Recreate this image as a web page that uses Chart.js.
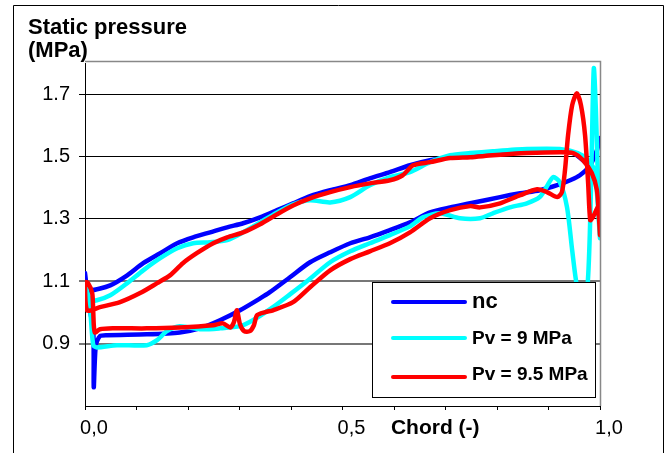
<!DOCTYPE html>
<html>
<head>
<meta charset="utf-8">
<script src="https://cdn.jsdelivr.net/npm/chart.js@4/dist/chart.umd.min.js"></script>
<style>
  html, body { margin: 0; padding: 0; background: #fff; }
  canvas { display: block; }
</style>
</head>
<body>
<canvas id="chart" width="666" height="453"></canvas>
<script>
// each series is one loop: upper surface from trailing to leading edge, then lower surface back
const ncChord = [1.0, 0.994, 0.981, 0.967, 0.948, 0.922, 0.858, 0.792, 0.748, 0.709, 0.670, 0.631, 0.592, 0.553, 0.515, 0.476, 0.437, 0.404, 0.373, 0.340, 0.307, 0.276, 0.243, 0.210, 0.179, 0.146, 0.113, 0.082, 0.049, 0.010, 0.0, 0.0,
  0.006, 0.016, 0.017, 0.021, 0.029, 0.043, 0.120, 0.184, 0.223, 0.262, 0.301, 0.340, 0.359, 0.398, 0.437, 0.476, 0.515, 0.553, 0.592, 0.631, 0.670, 0.709, 0.748, 0.806, 0.845, 0.883, 0.917, 0.942, 0.961, 0.981, 0.994, 1.0];
const ncPressure = [1.286, 1.402, 1.463, 1.488, 1.511, 1.517, 1.517, 1.514, 1.504, 1.498, 1.488, 1.472, 1.450, 1.430, 1.408, 1.392, 1.373, 1.350, 1.328, 1.305, 1.286, 1.273, 1.257, 1.241, 1.222, 1.190, 1.158, 1.119, 1.087, 1.071, 1.087, 1.126,
  1.039, 0.943, 0.760, 0.895, 0.924, 0.927, 0.930, 0.936, 0.949, 0.975, 1.007, 1.045, 1.065, 1.113, 1.161, 1.193, 1.222, 1.241, 1.264, 1.289, 1.321, 1.337, 1.350, 1.370, 1.382, 1.392, 1.408, 1.424, 1.440, 1.472, 1.520, 1.559];

const pv9Chord = [1.0, 0.990, 0.977, 0.957, 0.922, 0.858, 0.792, 0.748, 0.709, 0.670, 0.631, 0.592, 0.553, 0.515, 0.476, 0.437, 0.404, 0.373, 0.340, 0.307, 0.276, 0.243, 0.210, 0.179, 0.146, 0.113, 0.082, 0.049, 0.023, 0.010,
  0.002, 0.010, 0.016, 0.023, 0.062, 0.120, 0.140, 0.159, 0.184, 0.223, 0.262, 0.301, 0.326, 0.365, 0.398, 0.431, 0.476, 0.515, 0.553, 0.592, 0.631, 0.656, 0.689, 0.728, 0.767, 0.792, 0.825, 0.858, 0.883, 0.897, 0.909, 0.922, 0.936, 0.946, 0.955, 0.965, 0.975, 0.981, 0.984, 0.988, 0.992, 0.996, 1.0];
const pv9Pressure = [1.238, 1.450, 1.488, 1.511, 1.524, 1.524, 1.517, 1.511, 1.504, 1.482, 1.450, 1.434, 1.408, 1.370, 1.353, 1.360, 1.347, 1.321, 1.289, 1.257, 1.232, 1.225, 1.222, 1.206, 1.174, 1.135, 1.094, 1.055, 1.039, 1.039,
  1.081, 1.007, 0.895, 0.888, 0.895, 0.895, 0.911, 0.940, 0.956, 0.946, 0.949, 0.956, 0.975, 1.017, 1.058, 1.100, 1.161, 1.196, 1.222, 1.248, 1.276, 1.305, 1.318, 1.302, 1.302, 1.318, 1.337, 1.350, 1.370, 1.405, 1.434, 1.418, 1.337, 1.199, 1.087, 1.045, 1.071, 1.296, 1.520, 1.783, 1.649, 1.424, 1.238];

const pv95Chord = [1.0, 0.998, 0.994, 0.984, 0.967, 0.948, 0.922, 0.858, 0.792, 0.748, 0.709, 0.670, 0.637, 0.617, 0.592, 0.553, 0.515, 0.476, 0.437, 0.404, 0.373, 0.340, 0.307, 0.276, 0.249, 0.217, 0.190, 0.165, 0.140, 0.107, 0.068, 0.029, 0.004, 0.0,
  0.006, 0.014, 0.016, 0.019, 0.029, 0.054, 0.120, 0.184, 0.249, 0.268, 0.282, 0.289, 0.295, 0.301, 0.309, 0.320, 0.328, 0.334, 0.350, 0.365, 0.404, 0.437, 0.476, 0.515, 0.553, 0.592, 0.631, 0.670, 0.709, 0.748, 0.767, 0.806, 0.845, 0.878, 0.897, 0.917, 0.926, 0.932, 0.938, 0.946, 0.955, 0.963, 0.971, 0.977, 0.981, 0.986, 0.990, 0.996, 1.0];
const pv95Pressure = [1.248, 1.305, 1.392, 1.447, 1.488, 1.511, 1.514, 1.511, 1.504, 1.498, 1.495, 1.482, 1.472, 1.440, 1.424, 1.414, 1.402, 1.386, 1.366, 1.343, 1.315, 1.283, 1.257, 1.241, 1.222, 1.190, 1.158, 1.119, 1.094, 1.062, 1.033, 1.017, 1.007, 1.097,
  1.094, 1.062, 1.001, 0.936, 0.946, 0.949, 0.949, 0.952, 0.959, 0.965, 0.952, 0.968, 1.007, 0.962, 0.940, 0.940, 0.959, 0.991, 1.001, 1.007, 1.033, 1.081, 1.135, 1.171, 1.196, 1.222, 1.257, 1.302, 1.328, 1.341, 1.337, 1.350, 1.376, 1.395, 1.386, 1.370, 1.386, 1.456, 1.568, 1.665, 1.703, 1.665, 1.568, 1.414, 1.296, 1.305, 1.318, 1.337, 1.248];

const seriesNames = ['nc', 'Pv = 9 MPa', 'Pv = 9.5 MPa'];
const seriesColors = ['#0000ff', '#00ffff', '#ff0000'];

const xTicks = [0, 0.1, 0.2, 0.3, 0.4, 0.5, 0.6, 0.7, 0.8, 0.9, 1.0];
const xTickLabels = ['0,0', '', '', '', '', '0,5', '', '', '', '', '1,0'];
const yTicks = [0.9, 1.1, 1.3, 1.5, 1.7];

const FONT = 'Arial, "Liberation Sans", sans-serif';

function points(xs, ys) {
  return xs.map((x, i) => ({ x: x, y: ys[i] }));
}

function line(label, color, xs, ys, order) {
  return {
    label: label,
    data: points(xs, ys),
    showLine: true,
    borderColor: color,
    backgroundColor: color,
    borderWidth: 4.5,
    borderJoinStyle: 'round',
    borderCapStyle: 'round',
    pointRadius: 0,
    tension: 0.25,
    order: order,
  };
}

// page frame, axis titles, plot border and the boxed legend
const decorations = {
  id: 'decorations',
  beforeDraw(chart) {
    const c = chart.ctx;
    c.save();
    c.fillStyle = '#fff';
    c.fillRect(0, 0, chart.width, chart.height);
    c.restore();
  },
  afterDraw(chart) {
    const c = chart.ctx;
    const a = chart.chartArea;
    c.save();

    c.strokeStyle = '#888';
    c.lineWidth = 1.5;
    c.beginPath();
    c.moveTo(a.left, 61.5);
    c.lineTo(a.right + 0.5, 61.5);
    c.lineTo(a.right + 0.5, a.bottom);
    c.stroke();

    c.strokeStyle = '#000';
    c.lineWidth = 1;
    c.beginPath();
    c.moveTo(13.5, 460);
    c.lineTo(13.5, 5.5);
    c.lineTo(663.5, 5.5);
    c.lineTo(663.5, 460);
    c.stroke();

    c.fillStyle = '#000';
    c.textAlign = 'left';
    c.textBaseline = 'alphabetic';
    c.font = 'bold 22px ' + FONT;
    c.fillText('Static pressure', 28, 34);
    c.fillText('(MPa)', 28, 57);

    c.font = 'bold 21px ' + FONT;
    c.textAlign = 'center';
    const xs = chart.scales.x;
    c.fillText('Chord (-)', xs.getPixelForValue(0.68), 434);

    // legend box
    c.fillStyle = '#fff';
    c.fillRect(372, 282, 223, 115);
    c.strokeStyle = '#000';
    c.strokeRect(372.5, 282.5, 223, 115);
    const rows = [302, 338, 377];
    const base = [308, 344, 380];
    const sizes = [22, 19, 19];
    chart.data.datasets.forEach((ds, i) => {
      c.strokeStyle = ds.borderColor;
      c.lineWidth = 4;
      c.lineCap = 'round';
      c.beginPath();
      c.moveTo(393, rows[i]);
      c.lineTo(465, rows[i]);
      c.stroke();
      c.fillStyle = '#000';
      c.textAlign = 'left';
      c.font = 'bold ' + sizes[i] + 'px ' + FONT;
      c.fillText(ds.label, 472, base[i]);
    });
    c.restore();
  }
};

const ctx = document.getElementById('chart').getContext('2d');
new Chart(ctx, {
  type: 'scatter',
  data: {
    datasets: [
      line(seriesNames[0], seriesColors[0], ncChord, ncPressure, 3),
      line(seriesNames[1], seriesColors[1], pv9Chord, pv9Pressure, 2),
      line(seriesNames[2], seriesColors[2], pv95Chord, pv95Pressure, 1),
    ]
  },
  options: {
    responsive: false,
    animation: false,
    devicePixelRatio: 1,
    layout: { padding: { top: 63, right: 66, left: 0, bottom: 0 } },
    plugins: {
      legend: { display: false },
      tooltip: { enabled: false },
    },
    scales: {
      x: {
        type: 'linear',
        min: 0,
        max: 1,
        afterBuildTicks: s => { s.ticks = xTicks.map(v => ({ value: v })); },
        afterFit: s => { s.height = 47; },
        grid: { drawOnChartArea: false, drawTicks: true, tickLength: 4, tickColor: '#000', color: '#000' },
        border: { color: '#000', width: 1 },
        ticks: {
          autoSkip: false,
          maxRotation: 0,
          labelOffset: 9,
          padding: 6,
          color: '#000',
          font: { family: FONT, size: 20 },
          callback: (v, i) => xTickLabels[i],
        },
      },
      y: {
        type: 'linear',
        min: 0.7,
        max: 1.8,
        afterBuildTicks: s => { s.ticks = yTicks.map(v => ({ value: v })); },
        afterFit: s => { s.width = 85; },
        grid: {
          color: c => (c.tick && c.tick.value < 1.2 ? '#777' : '#000'),
          tickColor: c => (c.tick && c.tick.value < 1.2 ? '#777' : '#000'),
          lineWidth: c => (c.tick && c.tick.value < 1.2 ? 2 : 1),
          tickLength: 6,
        },
        border: { color: '#000', width: 1 },
        ticks: {
          padding: 9,
          color: '#000',
          font: { family: FONT, size: 20 },
          callback: v => v.toFixed(1),
        },
      },
    },
  },
  plugins: [decorations],
});
</script>
</body>
</html>
